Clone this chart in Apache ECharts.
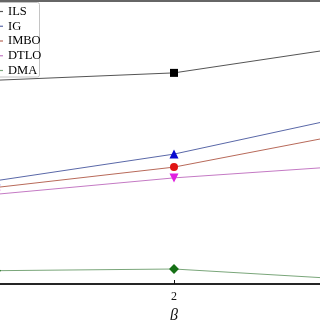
<!DOCTYPE html>
<html>
<head>
<meta charset="utf-8">
<script src="https://cdn.jsdelivr.net/npm/echarts@6/dist/echarts.min.js"></script>
<style>html,body{margin:0;padding:0;background:#fff}#c{width:320px;height:320px}</style>
</head>
<body>
<div id="c"></div>
<script>
const betas = [1, 2, 3];
const seriesNames = ['ILS', 'IG', 'IMBO', 'DTLO', 'DMA'];
const ILS = [72.0, 74.6, 84.0];
const IG = [36.5, 45.9, 59.5];
const IMBO = [34.1, 41.3, 53.4];
const DTLO = [31.7, 37.5, 41.8];
const DMA = [4.7, 5.3, 1.6];
const xTickLabels = ['1', '2', '3'];

const values = [ILS, IG, IMBO, DTLO, DMA];
const markerColors = ['#000000', '#0a0ad0', '#e01414', '#e020e0', '#157015'];
const lineColors = ['#555555', '#5a68a8', '#b86a5a', '#c47ac4', '#7aa67a'];
const symbols = ['rect', 'triangle', 'circle', 'triangle', 'rect'];
const symbolSizes = [8, 9, 8, 9, 7];
const rotations = [0, 0, 0, 180, 45];

const chart = echarts.init(document.getElementById('c'), null, {renderer: 'canvas'});
chart.setOption({
  backgroundColor: '#ffffff',
  animation: false,
  grid: {left: -4, right: -32, top: 1, bottom: 36, show: true, borderColor: '#666', borderWidth: 2,
    backgroundColor: 'transparent', containLabel: false, outerBoundsMode: 'none'},
  graphic: [{
    type: 'rect', z: 1, silent: true,
    shape: {x: -10, y: 2.5, width: 49.5, height: 74.5, r: 2},
    style: {fill: 'none', stroke: '#c4c4c4', lineWidth: 1}
  }],
  legend: {
    z: 10, orient: 'vertical', left: 0, top: 2, padding: [3, 2, 0, 0], itemWidth: 3, itemHeight: 1.2, itemGap: 1.75,
    itemTextGap: 0, borderWidth: 0, backgroundColor: 'transparent',
    textStyle: {fontFamily: 'Liberation Serif', fontSize: 12.5, color: '#000', lineHeight: 12},
    data: seriesNames.map((n, i) => ({name: n, icon: 'rect', itemStyle: {color: lineColors[i]}}))
  },
  xAxis: {
    type: 'value', min: 1, max: 3, interval: 1,
    name: 'β', nameLocation: 'middle', nameGap: 17,
    nameTextStyle: {fontFamily: 'Liberation Serif', fontStyle: 'italic', fontSize: 16, color: '#111'},
    axisLine: {lineStyle: {color: '#111', width: 1.5}},
    axisTick: {inside: true, length: 4, lineStyle: {color: '#111'}},
    axisLabel: {margin: 7, fontFamily: 'Liberation Serif', fontSize: 12, color: '#111',
      formatter: v => xTickLabels[betas.indexOf(v)] || ''},
    splitLine: {show: false}
  },
  yAxis: {type: 'value', min: 0, max: 100, show: false, splitLine: {show: false}},
  series: seriesNames.map((n, i) => ({
    name: n, type: 'line',
    data: betas.map((b, j) => [b, values[i][j]]),
    symbol: symbols[i], symbolSize: symbolSizes[i], symbolRotate: rotations[i],
    showAllSymbol: true, clip: false,
    itemStyle: {color: markerColors[i]},
    lineStyle: {color: lineColors[i], width: 1}
  }))
});
</script>
</body>
</html>
